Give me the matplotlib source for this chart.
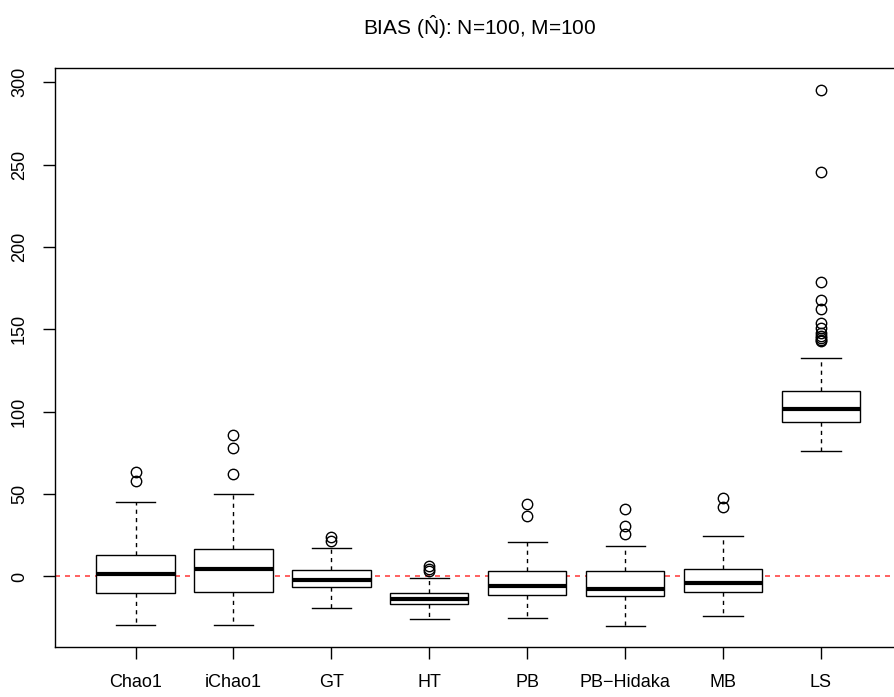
import numpy as np
import matplotlib
matplotlib.use("Agg")
import matplotlib.pyplot as plt

plt.rcParams['font.family'] = ['Liberation Sans', 'DejaVu Sans']
plt.rcParams['mathtext.fontset'] = 'custom'
plt.rcParams['mathtext.rm'] = 'Liberation Sans'

# five-number summaries
methods = ["Chao1", "iChao1", "GT", "HT", "PB", "PB\u2212Hidaka", "MB", "LS"]
whis_lo = [-29.2, -29.3, -19.0, -25.9, -25.5, -29.9, -23.9, 76.4]
q1      = [-10.1, -9.3, -6.3, -16.8, -11.1, -11.9, -9.3, 93.6]
median  = [1.6, 4.7, -2.0, -13.8, -5.6, -7.3, -3.8, 101.7]
q3      = [13.2, 16.4, 3.9, -10.1, 3.1, 3.1, 4.3, 112.8]
whis_hi = [45.0, 49.8, 17.0, -1.0, 20.7, 18.2, 24.3, 132.7]
outliers = [
    [63.2, 57.7],
    [86.1, 78.0, 62.4],
    [23.9, 21.3],
    [6.1, 4.6, 3.6],
    [44.0, 36.9],
    [41.1, 30.6, 25.9],
    [47.8, 41.9],
    [295.3, 245.4, 178.9, 167.7, 162.5, 154.0, 151.0, 147.9, 146.0, 144.8, 143.5, 142.8],
]

stats = []
for i in range(len(methods)):
    stats.append(dict(label=methods[i], whislo=whis_lo[i], q1=q1[i], med=median[i],
                      q3=q3[i], whishi=whis_hi[i], fliers=outliers[i]))

fig = plt.figure(figsize=(8.95, 6.97), dpi=100)
ax = fig.add_axes([55 / 895, 1 - 647 / 697, (901.5 - 55) / 895, (647 - 68) / 697])

ax.axhline(0, color='#ff4545', lw=1.2, ls=(0, (3, 3)), zorder=1)

ax.bxp(stats, positions=range(1, 9), widths=0.8, patch_artist=True,
       boxprops=dict(facecolor='white', edgecolor='black', lw=1.0),
       medianprops=dict(color='black', lw=3.0, solid_capstyle='butt'),
       whiskerprops=dict(color='black', lw=1.0, ls=(0, (3, 3))),
       capprops=dict(color='black', lw=1.0),
       capwidths=0.4,
       flierprops=dict(marker='o', markerfacecolor='none', markeredgecolor='black',
                       markersize=7.5, markeredgewidth=1.0),
       zorder=2)

ax.set_xlim(0.177, 8.823)
ax.set_ylim(-42.8, 308.6)
ax.set_yticks([0, 50, 100, 150, 200, 250, 300])
ax.set_xticks(range(1, 9))
ax.set_xticklabels(methods)
ax.tick_params(axis='both', length=8.5, width=1.0, labelsize=13, pad=11)
plt.setp(ax.get_yticklabels(), rotation=90, va='center')
for s in ax.spines.values():
    s.set_linewidth(1.0)

fig.text(480 / 895, 1 - 35 / 697, r'BIAS ($\hat{\mathregular{N}}$): N=100, M=100',
         ha='center', va='baseline', fontsize=15)

fig.savefig("out.png", dpi=100)
